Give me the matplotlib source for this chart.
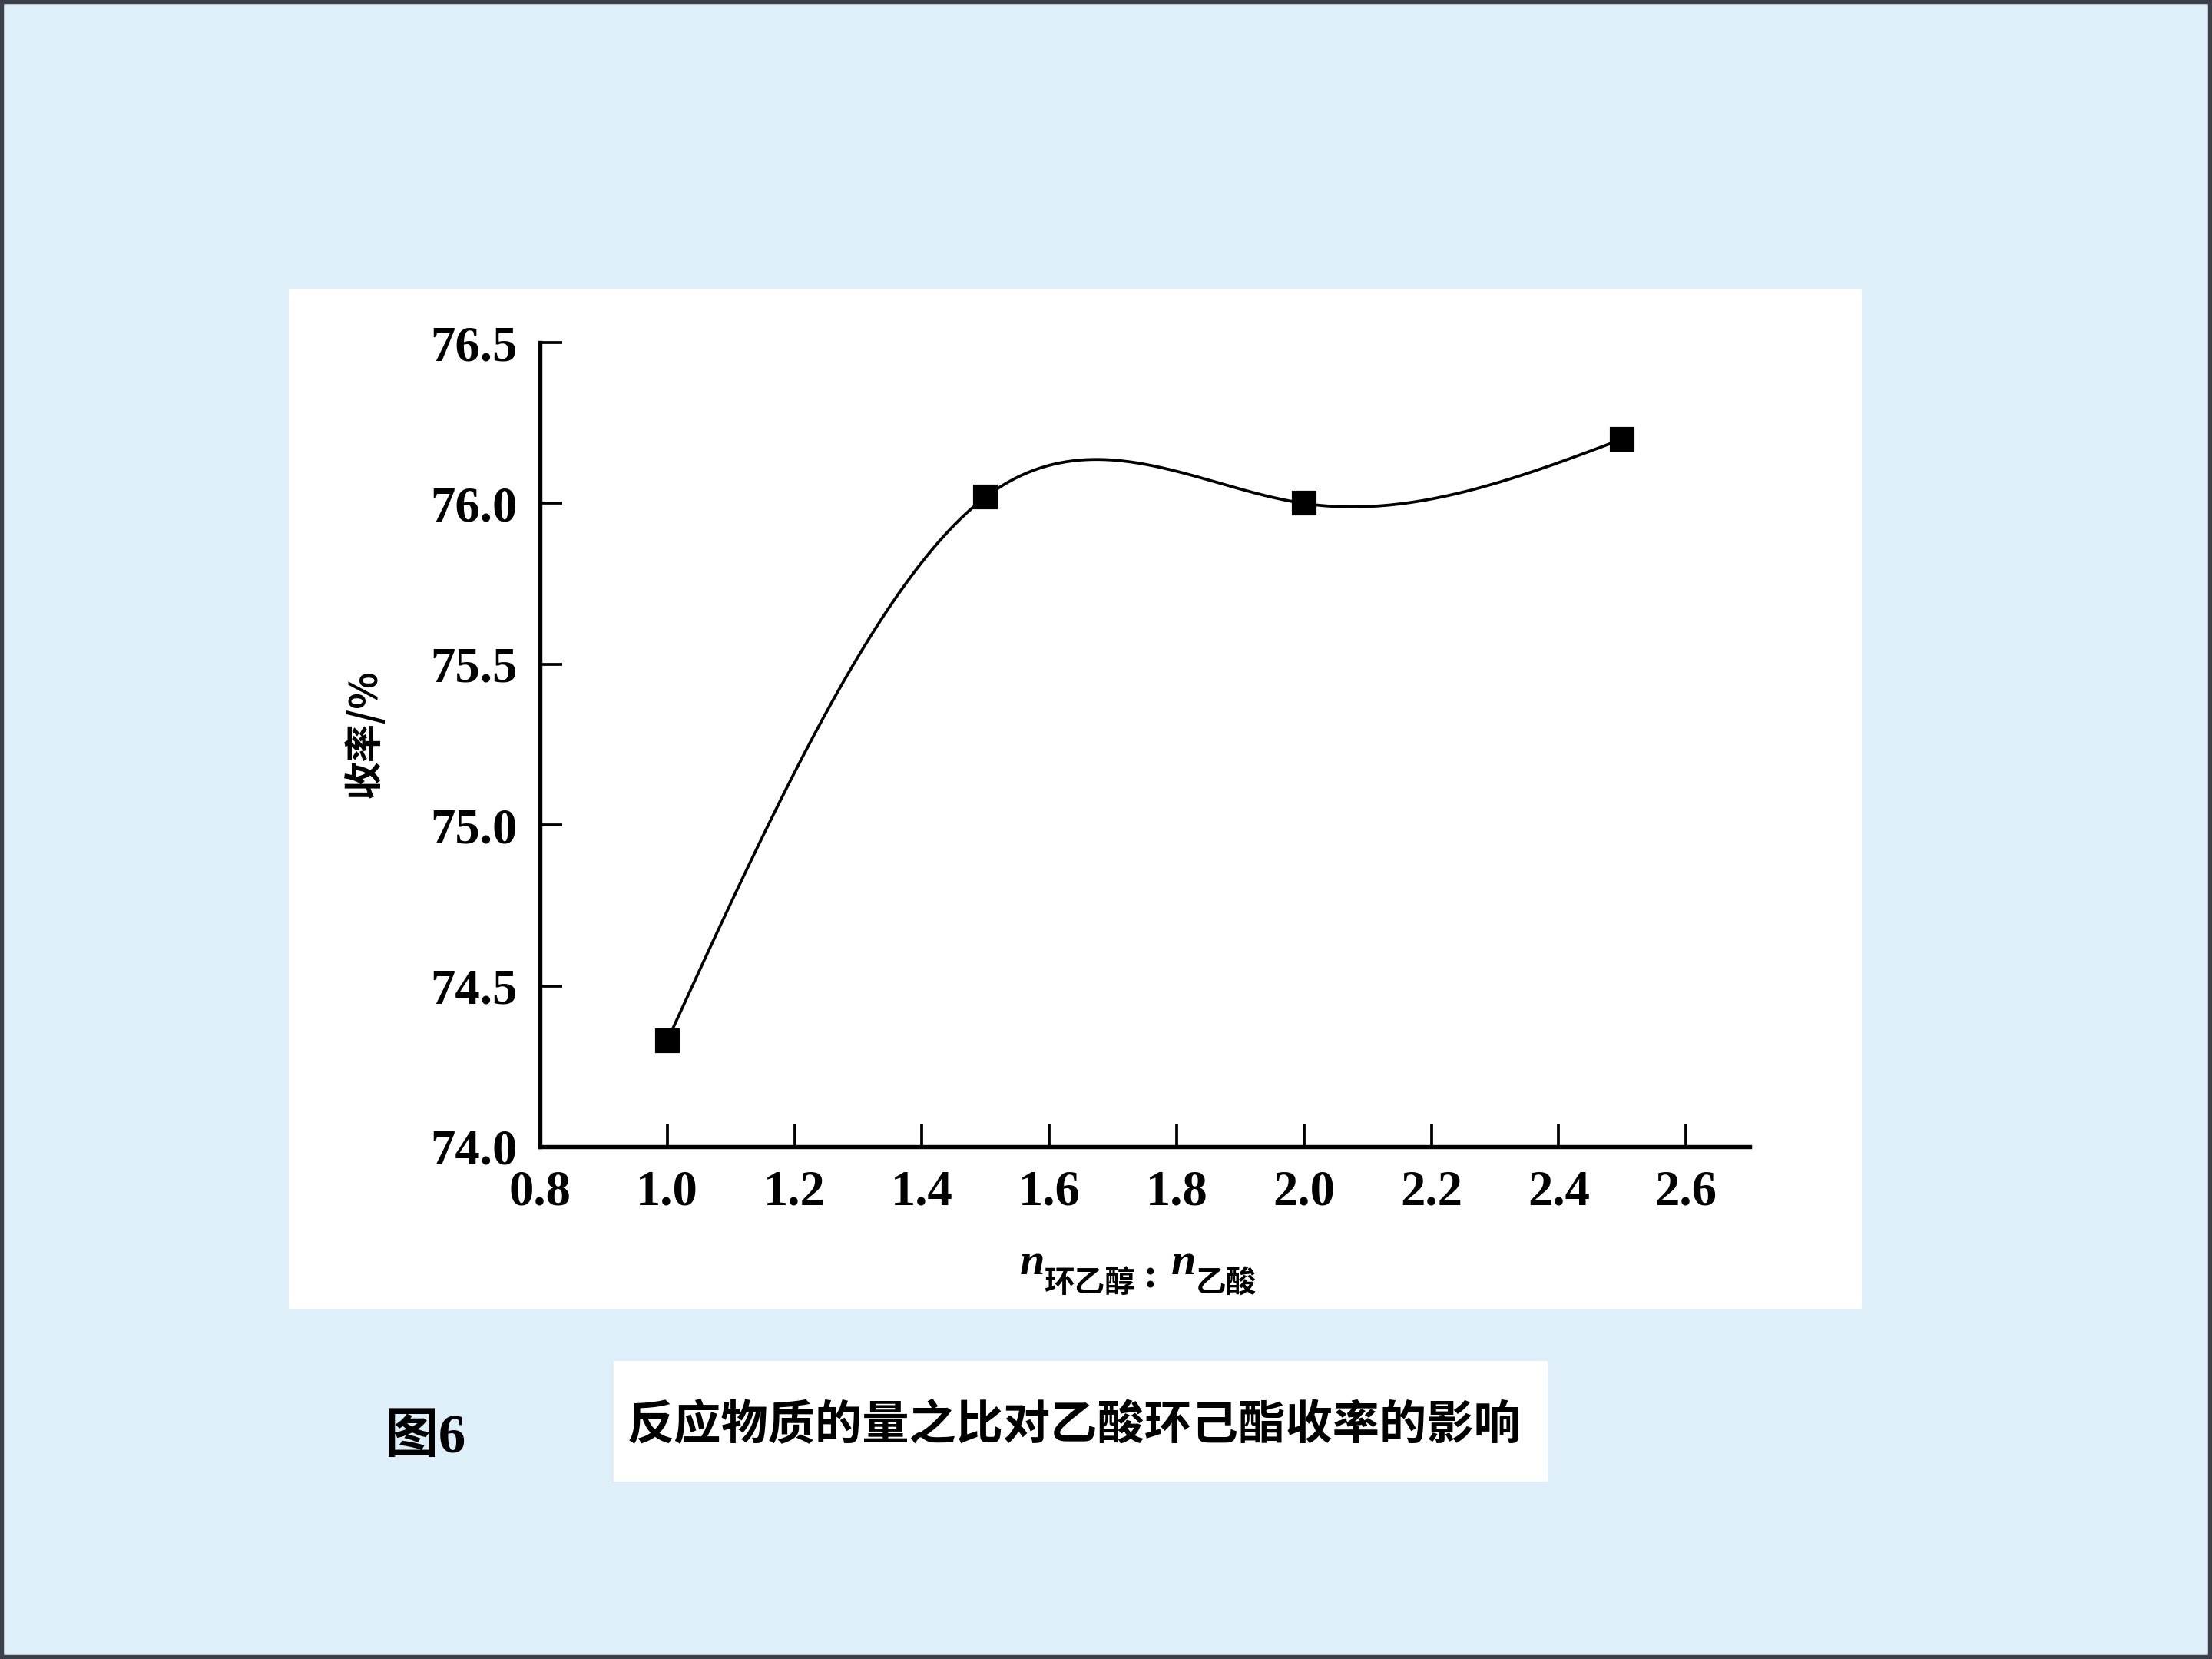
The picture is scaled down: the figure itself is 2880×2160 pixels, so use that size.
import numpy as np
import matplotlib
matplotlib.use("Agg")
import matplotlib.pyplot as plt
from matplotlib.patches import Rectangle

# ---- data ----
ratio = [1.0, 1.5, 2.0, 2.5]
yield_pct = [74.33, 76.02, 76.00, 76.20]
xticks = [0.8, 1.0, 1.2, 1.4, 1.6, 1.8, 2.0, 2.2, 2.4, 2.6]
yticks = [74.0, 74.5, 75.0, 75.5, 76.0, 76.5]
ylabel = "收率/%"
title = "反应物质的量之比对乙酸环己酯收率的影响"
fig_label = "图6"


def natural_spline(x, y, n=300):
    x = np.asarray(x, float); y = np.asarray(y, float)
    k = len(x)
    h = np.diff(x)
    A = np.zeros((k, k)); b = np.zeros(k)
    A[0, 0] = 1; A[-1, -1] = 1
    for i in range(1, k - 1):
        A[i, i - 1] = h[i - 1]; A[i, i] = 2 * (h[i - 1] + h[i]); A[i, i + 1] = h[i]
        b[i] = 6 * ((y[i + 1] - y[i]) / h[i] - (y[i] - y[i - 1]) / h[i - 1])
    M = np.linalg.solve(A, b)
    xs = np.linspace(x[0], x[-1], n)
    idx = np.clip(np.searchsorted(x, xs) - 1, 0, k - 2)
    x0, x1 = x[idx], x[idx + 1]; hh = x1 - x0
    ys = (M[idx] * (x1 - xs) ** 3 / (6 * hh) + M[idx + 1] * (xs - x0) ** 3 / (6 * hh)
          + (y[idx] / hh - M[idx] * hh / 6) * (x1 - xs)
          + (y[idx + 1] / hh - M[idx + 1] * hh / 6) * (xs - x0))
    return xs, ys


fig = plt.figure(figsize=(9.6, 7.2), dpi=300)
fig.patch.set_facecolor("#DEEFF9")
# outer border
fig.add_artist(Rectangle((0, 0), 1, 1, transform=fig.transFigure, fill=False,
                         edgecolor="#3C4048", linewidth=2.5))
# white panel behind chart
fig.add_artist(Rectangle((0.1306, 0.2111), 0.7111, 0.6148, transform=fig.transFigure,
                         facecolor="white", edgecolor="none", zorder=0))
# white title box
fig.add_artist(Rectangle((0.2774, 0.1069), 0.4222, 0.0727, transform=fig.transFigure,
                         facecolor="white", edgecolor="none", zorder=0))

ax = fig.add_axes([0.2441, 0.3088, 0.5469, 0.4847])
ax.set_facecolor("none")
xs, ys = natural_spline(ratio, yield_pct)
ax.plot(xs, ys, color="black", linewidth=0.9)
ax.plot(ratio, yield_pct, linestyle="none", marker="s", markersize=6.5,
        color="black")

ax.set_xlim(0.8, 2.7)
ax.set_ylim(74.0, 76.5)
ax.set_xticks(xticks)
ax.set_yticks(yticks)
ax.set_xticklabels([f"{v:.1f}" for v in xticks])
ax.set_yticklabels([f"{v:.1f}" for v in yticks])
for s in ["top", "right"]:
    ax.spines[s].set_visible(False)
for s in ["left", "bottom"]:
    ax.spines[s].set_linewidth(1.3)
ax.tick_params(direction="in", length=7, width=0.9, labelsize=15.5, pad=7)
for lab in ax.get_xticklabels() + ax.get_yticklabels():
    lab.set_fontfamily("Liberation Serif")
    lab.set_fontweight("bold")

# y label
fig.text(0.1646, 0.5579, ylabel, rotation=90, ha="center", va="center",
         fontsize=12, fontweight="bold", family=["Noto Sans CJK SC", "DejaVu Sans"])

# x label pieces
fig.text(0.4611, 0.2319, "n", fontsize=14, style="italic", fontweight="bold",
         family="Liberation Serif", ha="left", va="baseline")
fig.text(0.4720, 0.2215, "环乙醇", fontsize=9.5, fontweight="bold",
         family=["Noto Sans CJK SC"], ha="left", va="baseline")
fig.text(0.5200, 0.2240, ":", fontsize=13, fontweight="bold",
         family="Liberation Serif", ha="center", va="baseline")
fig.text(0.5295, 0.2319, "n", fontsize=14, style="italic", fontweight="bold",
         family="Liberation Serif", ha="left", va="baseline")
fig.text(0.5405, 0.2215, "乙酸", fontsize=9.5, fontweight="bold",
         family=["Noto Sans CJK SC"], ha="left", va="baseline")

# title
fig.text(0.4857, 0.1405, title, ha="center", va="center", fontsize=14.7,
         fontweight="bold", family=["Noto Sans CJK SC", "DejaVu Sans"])
# figure number
fig.text(0.1740, 0.1325, fig_label, ha="left", va="center", fontsize=17,
         fontweight="bold", family=["Liberation Serif", "Noto Sans CJK SC"])

fig.savefig("out.png", dpi=300, facecolor=fig.get_facecolor())
